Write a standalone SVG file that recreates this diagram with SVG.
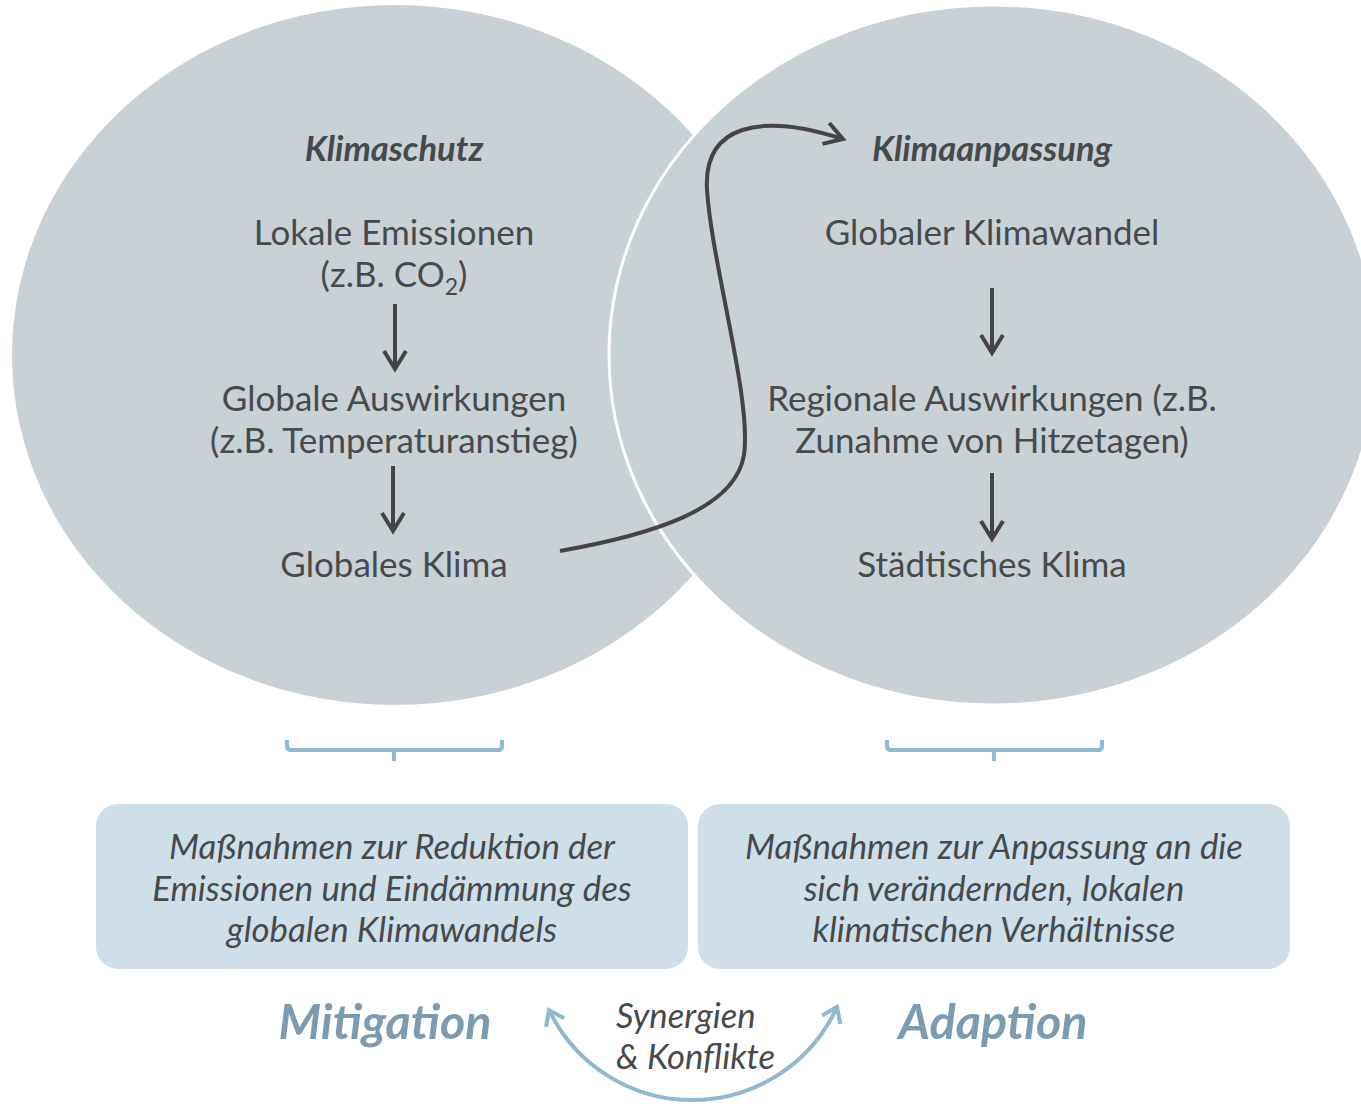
<svg xmlns="http://www.w3.org/2000/svg" width="1361" height="1104" viewBox="0 0 1361 1104">
<defs>
<style>
.t{font-family:Lato,"Open Sans",sans-serif;font-size:35px;fill:#474a4c;text-anchor:middle}
.h{font-family:Lato,"Open Sans",sans-serif;font-size:34.5px;font-weight:bold;font-style:italic;fill:#474a4c;text-anchor:middle}
.b{font-family:Lato,"Open Sans",sans-serif;font-size:34.8px;font-style:italic;fill:#474a4c;text-anchor:middle}
.big{font-family:Lato,"Open Sans",sans-serif;font-size:48.5px;font-weight:bold;font-style:italic;fill:#7b9bb3;text-anchor:middle}
.s{font-family:Lato,"Open Sans",sans-serif;font-size:34.7px;font-style:italic;fill:#474a4c}
.ar{stroke:#444;stroke-width:4;fill:none}
.br{stroke:#8fb8d3;stroke-width:4;fill:none;stroke-linejoin:round}
.box{fill:#cfdfea}
</style>
<marker id="ah" viewBox="-24 -15 28 30" refX="0" refY="0" markerWidth="28" markerHeight="30" markerUnits="userSpaceOnUse" orient="auto">
<path d="M-18,-11 L0,0 L-18,11" fill="none" stroke="#444" stroke-width="4"/>
</marker>
<marker id="bh" viewBox="-20 -13 24 26" refX="0" refY="0" markerWidth="24" markerHeight="26" markerUnits="userSpaceOnUse" orient="auto-start-reverse">
<path d="M-14,-10 L0,0 L-14,10" fill="none" stroke="#8fb8d3" stroke-width="4"/>
</marker>
</defs>
<rect width="1361" height="1104" fill="#ffffff"/>
<g id="circle-klimaschutz">
<ellipse cx="395" cy="355" rx="383" ry="350" fill="#c8d1d6"/>
</g>
<g id="circle-klimaanpassung">
<ellipse cx="993" cy="355" rx="384" ry="350" fill="#c8d1d6" stroke="#ffffff" stroke-width="3"/>
</g>
<g id="node-klimaschutz"><text class="h" x="394" y="161">Klimaschutz</text></g>
<g id="node-lokale"><text class="t" x="394" y="245">Lokale Emissionen</text><text class="t" x="394" y="287">(z.B. CO<tspan font-size="23" dy="8">2</tspan><tspan dy="-8">)</tspan></text></g>
<g id="node-globale-ausw"><text class="t" x="394" y="411">Globale Auswirkungen</text><text class="t" x="394" y="453">(z.B. Temperaturanstieg)</text></g>
<g id="node-globales-klima"><text class="t" x="394" y="577">Globales Klima</text></g>
<g id="node-klimaanpassung"><text class="h" x="992" y="161">Klimaanpassung</text></g>
<g id="node-globaler-kw"><text class="t" x="992" y="245">Globaler Klimawandel</text></g>
<g id="node-regionale"><text class="t" x="992" y="411">Regionale Auswirkungen (z.B.</text><text class="t" x="992" y="453">Zunahme von Hitzetagen)</text></g>
<g id="node-staedtisches"><text class="t" x="992" y="577">Städtisches Klima</text></g>
<g id="connectors">
<line class="ar" x1="395" y1="304" x2="395" y2="369" marker-end="url(#ah)"/>
<line class="ar" x1="393" y1="466" x2="393" y2="531" marker-end="url(#ah)"/>
<line class="ar" x1="992" y1="288" x2="992" y2="353" marker-end="url(#ah)"/>
<line class="ar" x1="992" y1="473" x2="992" y2="539" marker-end="url(#ah)"/>
<path class="ar" d="M560,551 C650,535 735,510 744,455 C752,400 712,265 707,190 C703,125 760,112 843,139" marker-end="url(#ah)"/>
<path class="br" d="M287,740 V746 Q287,750 291,750 H498 Q502,750 502,746 V740 M394,750 V761"/>
<path class="br" d="M887,740 V746 Q887,750 891,750 H1098 Q1102,750 1102,746 V740 M994,750 V761"/>
<path d="M549,1010 A159,159 0 0 0 837,1007" fill="none" stroke="#8fb8d3" stroke-width="4" marker-start="url(#bh)" marker-end="url(#bh)"/>
</g>
<g id="node-mitigation-box">
<rect class="box" x="96" y="804" width="592" height="165" rx="22"/>
<text class="b" x="392" y="859">Maßnahmen zur Reduktion der</text>
<text class="b" x="392" y="901">Emissionen und Eindämmung des</text>
<text class="b" x="392" y="942">globalen Klimawandels</text>
</g>
<g id="node-adaption-box">
<rect class="box" x="698" y="804" width="592" height="165" rx="22"/>
<text class="b" x="994" y="859">Maßnahmen zur Anpassung an die</text>
<text class="b" x="994" y="901">sich verändernden, lokalen</text>
<text class="b" x="994" y="942">klimatischen Verhältnisse</text>
</g>
<g id="node-mitigation"><text class="big" x="385" y="1039">Mitigation</text></g>
<g id="node-adaption"><text class="big" x="993" y="1039">Adaption</text></g>
<g id="node-synergien"><text class="s" x="616" y="1028">Synergien</text><text class="s" x="616" y="1069">&amp; Konflikte</text></g>
</svg>
